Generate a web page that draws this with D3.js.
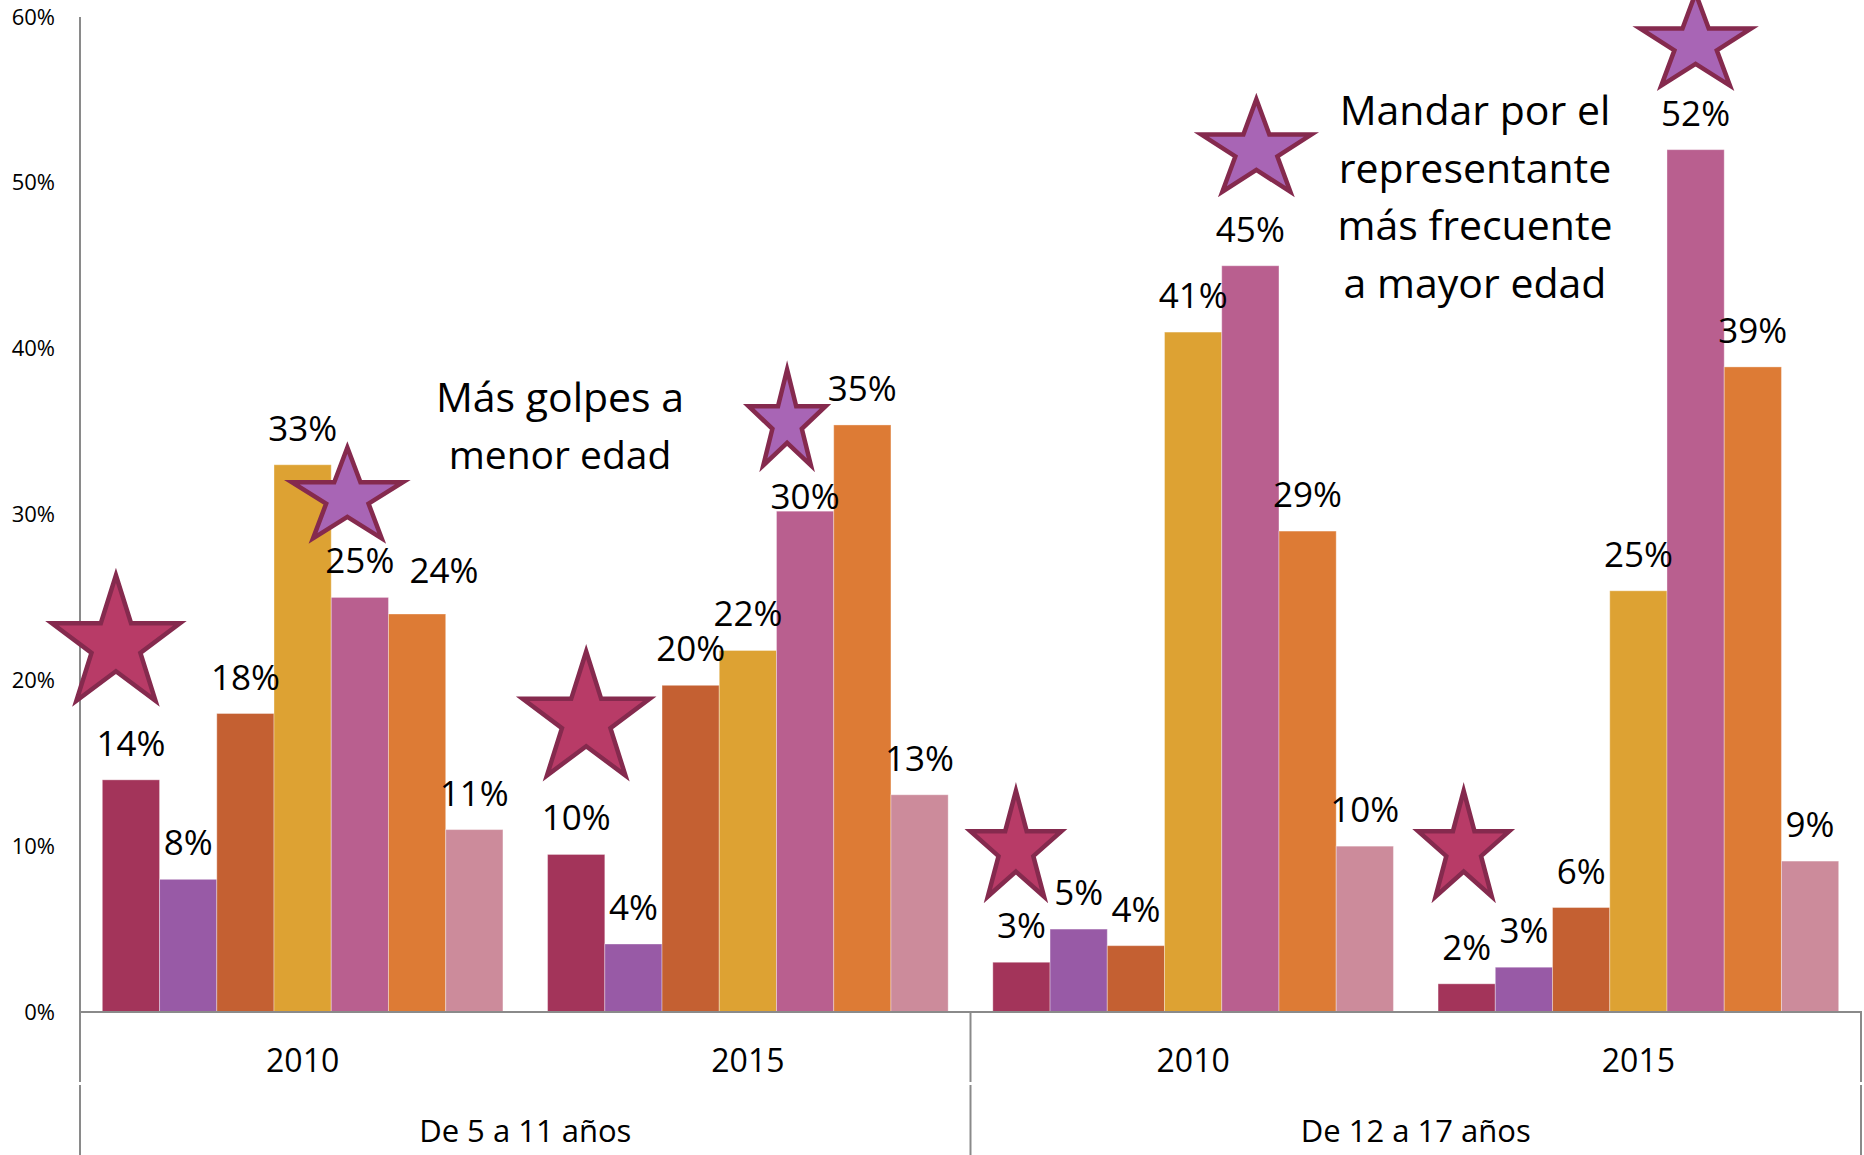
<!DOCTYPE html>
<html>
<head>
<meta charset="utf-8">
<script src="https://cdn.jsdelivr.net/npm/d3@7"></script>
<style>
  body { margin: 0; background: #fff; }
  svg text { font-family: "Open Sans", sans-serif; fill: #000; }
</style>
</head>
<body>
<svg id="chart" width="1864" height="1155"></svg>
<script>
// ---------------- DATA ----------------
const years = ["2010", "2015", "2010", "2015"];
const ageGroups = ["De 5 a 11 años", "De 12 a 17 años"];
const seriesNames = ["Golpes", "Serie 2", "Serie 3", "Serie 4", "Mandar por el representante", "Serie 6", "Serie 7"];
// values per series, across the 4 categories (5-11 2010, 5-11 2015, 12-17 2010, 12-17 2015)
const serie1 = [14, 9.5, 3, 1.7];
const serie2 = [8, 4.1, 5, 2.7];
const serie3 = [18, 19.7, 4, 6.3];
const serie4 = [33, 21.8, 41, 25.4];
const serie5 = [25, 30.2, 45, 52];
const serie6 = [24, 35.4, 29, 38.9];
const serie7 = [11, 13.1, 10, 9.1];
const seriesValues = [serie1, serie2, serie3, serie4, serie5, serie6, serie7];
const yTicks = [0, 10, 20, 30, 40, 50, 60];
const noteLeft = ["Más golpes a", "menor edad"];
const noteRight = ["Mandar por el", "representante", "más frecuente", "a mayor edad"];
// star highlights: category, series, top and bottom in value units
const starCat = [0, 1, 0, 1, 2, 3, 2, 3];
const starSer = [0, 0, 4, 4, 4, 4, 0, 0];
const starTop = [26.7, 22.1, 34.4, 39.1, 55.4, 61.8, 13.7, 13.7];
const starBottom = [18.4, 13.9, 28.2, 32.6, 49.1, 55.5, 6.6, 6.6];

// ---------------- STYLE / LAYOUT ----------------
const colors = ["#A3345A", "#985AA6", "#C46032", "#DDA233", "#B95F8F", "#DD7B35", "#CC8B9B"];
const starFill = s => s === 0 ? "#B83B67" : "#A865B5";
const starStroke = "#852A4E";
const starDx = [-15, 10, -12.5, -18, 6, 0, -5.5, -3];
const starW = [140, 139, 123, 89, 122, 123, 103, 103];
const labelOffsets = { "0-5": [27, -7], "1-4": [0, 22] }; // "cat-ser": [dx, dy]
const axisColor = "#8a8a8a";

const svg = d3.select("#chart");
const y = d3.scaleLinear().domain([0, 60]).range([1012, 17]);
const x0 = d3.scaleBand().domain(d3.range(years.length)).range([80, 1861]);
const x1 = d3.scaleBand().domain(d3.range(seriesNames.length)).range([0, x0.bandwidth()]).paddingOuter(0.39);

// Y axis labels
const yAxis = svg.append("g").attr("transform", "translate(80,0)")
  .call(d3.axisLeft(y).tickValues(yTicks).tickSize(0).tickPadding(25).tickFormat(d => d + "%"));
yAxis.select(".domain").remove();
yAxis.selectAll("text").attr("font-family", null).style("font-size", "22px");

// Bars
const rows = [];
years.forEach((yr, i) => seriesValues.forEach((vals, j) => rows.push({ cat: i, ser: j, v: vals[i] })));

svg.append("g").selectAll("rect").data(rows).join("rect")
  .attr("x", d => x0(d.cat) + x1(d.ser))
  .attr("y", d => y(d.v))
  .attr("width", x1.bandwidth())
  .attr("height", d => y(0) - y(d.v))
  .attr("fill", d => colors[d.ser])
  .attr("stroke", "#ffffff").attr("stroke-opacity", 0.35).attr("stroke-width", 1);

// Axis lines
const lines = svg.append("g").attr("stroke", axisColor).attr("stroke-width", 2).attr("fill", "none");
lines.append("line").attr("x1", 80).attr("x2", 1862).attr("y1", y(0)).attr("y2", y(0));
lines.append("line").attr("x1", 80).attr("x2", 80).attr("y1", y(60)).attr("y2", 1082);
const groupEdges = [x0(0), x0(2), x0(3) + x0.bandwidth()];
groupEdges.forEach((gx, k) => {
  if (k > 0) lines.append("line").attr("x1", gx).attr("x2", gx).attr("y1", y(0)).attr("y2", 1082);
  lines.append("line").attr("x1", gx).attr("x2", gx).attr("y1", 1085).attr("y2", 1155);
});

// Year labels
const xAxis = svg.append("g").attr("transform", `translate(0,${y(0)})`)
  .call(d3.axisBottom(x0).tickSize(0).tickFormat(i => years[i]));
xAxis.select(".domain").remove();
xAxis.selectAll("text").attr("font-family", null).style("font-size", "32px").attr("y", 60).attr("dy", 0);

// Age group labels
svg.append("g").selectAll("text").data(ageGroups).join("text")
  .attr("x", (d, g) => x0(g * 2) + x0.bandwidth())
  .attr("y", 1142)
  .attr("text-anchor", "middle")
  .style("font-size", "31px")
  .text(d => d);

// Stars
function starPath(cx, top, w, h) {
  const pts = [];
  for (let k = 0; k < 10; k++) {
    const a = (-90 + k * 36) * Math.PI / 180;
    const r = k % 2 === 0 ? 1 : 0.382;
    const nx = r * Math.cos(a), ny = r * Math.sin(a);
    pts.push([cx + nx * (w / 2) / 0.951, top + (ny + 1) / 1.809 * h]);
  }
  return "M" + pts.map(p => p.join(",")).join("L") + "Z";
}
const inset = 6;
svg.append("g").selectAll("path").data(d3.range(starCat.length)).join("path")
  .attr("d", k => {
    const cx = x0(starCat[k]) + x1(starSer[k]) + x1.bandwidth() / 2 + starDx[k];
    const top = y(starTop[k]) + inset;
    const h = y(starBottom[k]) - y(starTop[k]) - 2 * inset;
    return starPath(cx, top, starW[k] - 2 * inset, h);
  })
  .attr("fill", k => starFill(starSer[k]))
  .attr("stroke", starStroke)
  .attr("stroke-width", 4.5)
  .attr("stroke-linejoin", "miter")
  .attr("stroke-miterlimit", 10);

// Value labels
svg.append("g").selectAll("text").data(rows).join("text")
  .attr("x", d => x0(d.cat) + x1(d.ser) + x1.bandwidth() / 2 + ((labelOffsets[d.cat + "-" + d.ser] || [0, 0])[0]))
  .attr("y", d => y(d.v) - 24 + ((labelOffsets[d.cat + "-" + d.ser] || [0, 0])[1]))
  .attr("text-anchor", "middle")
  .style("font-size", "35px")
  .text(d => Math.round(d.v) + "%");

// Annotations
const noteLeftSizes = [41, 39];
svg.append("g").selectAll("text").data(noteLeft).join("text")
  .attr("x", 560).attr("y", (d, i) => 412 + i * 57)
  .attr("text-anchor", "middle")
  .style("font-size", (d, i) => noteLeftSizes[i] + "px")
  .text(d => d);
svg.append("g").selectAll("text").data(noteRight).join("text")
  .attr("x", 1475).attr("y", (d, i) => 125 + i * 57.7)
  .attr("text-anchor", "middle")
  .style("font-size", "41px")
  .text(d => d);
</script>
</body>
</html>
